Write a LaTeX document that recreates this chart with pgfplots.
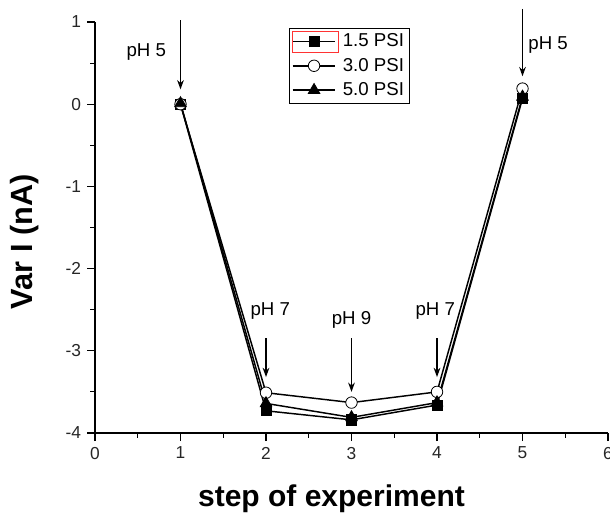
\documentclass[border=0pt]{standalone}
\usepackage{pgfplots}
\pgfplotsset{compat=1.18}
\usepackage{fontspec}
\setmainfont{Liberation Sans}
\usetikzlibrary{arrows.meta}
\begin{document}
\begin{tikzpicture}
\begin{axis}[
  scale only axis,
  width=384.75pt, height=308.25pt,
  xmin=0, xmax=6, ymin=-4, ymax=1,
  axis x line*=bottom, axis y line*=left,
  axis line style={line width=0.8pt},
  xtick={0,1,2,3,4,5,6}, ytick={-4,-3,-2,-1,0,1},
  minor xtick={0.5,1.5,2.5,3.5,4.5,5.5},
  minor ytick={-3.5,-2.5,-1.5,-0.5,0.5},
  tick align=outside,
  major tick length=6pt, minor tick length=3.5pt,
  tick style={line width=0.8pt, black},
  /pgf/number format/assume math mode=true,
  ticklabel style={font=\fontsize{13}{15}\selectfont, text=black!85},
  xticklabel style={yshift=-1pt},
  yticklabel style={xshift=-1pt},
  clip=false,
  xlabel={\textbf{step of experiment}},
  ylabel={\textbf{Var I (nA)}},
  every axis x label/.style={at={(rel axis cs:0.461,0)}, anchor=center, yshift=-49pt, font=\fontsize{22.5}{26}\selectfont},
  every axis y label/.style={at={(rel axis cs:0,0.465)}, rotate=90, anchor=center, yshift=52.5pt, font=\fontsize{23}{26}\selectfont},
  legend style={at={(0.378,0.985)}, anchor=north west, draw=black, line width=0.6pt,
    font=\fontsize{14}{16}\selectfont, row sep=3pt, inner sep=2pt, column sep=3pt,
    cells={anchor=west}},
  legend image code/.code={\draw[mark repeat=2,mark phase=2,#1] plot coordinates {(0pt,0pt)(16pt,0pt)(32pt,0pt)};},
]
\coordinate (bl) at (rel axis cs:0,0);
\coordinate (tr) at (rel axis cs:1,1);
\addplot[black, line width=1.1pt, mark=square*, mark size=3.8pt, mark options={fill=black, line width=0.6pt}]
  coordinates {(1,0.0)(2,-3.73)(3,-3.84)(4,-3.66)(5,0.07)};
\addlegendentry{1.5 PSI}
\addplot[black, line width=1.1pt, mark=*, mark size=4.3pt, mark options={fill=white, line width=0.6pt}]
  coordinates {(1,0.0)(2,-3.51)(3,-3.63)(4,-3.50)(5,0.19)};
\addlegendentry{3.0 PSI}
\addplot[black, line width=1.1pt, mark=triangle*, mark size=5pt, mark options={fill=black, line width=0.6pt}]
  coordinates {(1,0.01)(2,-3.64)(3,-3.81)(4,-3.63)(5,0.09)};
\addlegendentry{5.0 PSI}
\begin{scope}[line width=1.1pt, -{Stealth[length=7pt,width=5pt]}]
\draw (axis cs:1,1.02) -- (axis cs:1,0.18);
\draw (axis cs:2,-2.85) -- (axis cs:2,-3.32);
\draw (axis cs:3,-2.85) -- (axis cs:3,-3.50);
\draw (axis cs:4,-2.85) -- (axis cs:4,-3.32);
\draw (axis cs:5,1.16) -- (axis cs:5,0.34);
\end{scope}
\begin{scope}[font=\fontsize{14}{16}\selectfont]
\node at (axis cs:0.6,0.63) {pH 5};
\node at (axis cs:2.05,-2.52) {pH 7};
\node at (axis cs:3.0,-2.63) {pH 9};
\node at (axis cs:3.98,-2.52) {pH 7};
\node at (axis cs:5.30,0.72) {pH 5};
\end{scope}
\coordinate (ra) at (rel axis cs:0.385,0.925);
\coordinate (rb) at (rel axis cs:0.474,0.978);
\end{axis}
\draw[red!80, line width=0.8pt] (ra) rectangle (rb);
\pgfresetboundingbox
\path[use as bounding box] ([xshift=-71.25pt,yshift=-61.5pt]bl) rectangle ([xshift=1.5pt,yshift=16.5pt]tr);
\end{tikzpicture}
\end{document}
